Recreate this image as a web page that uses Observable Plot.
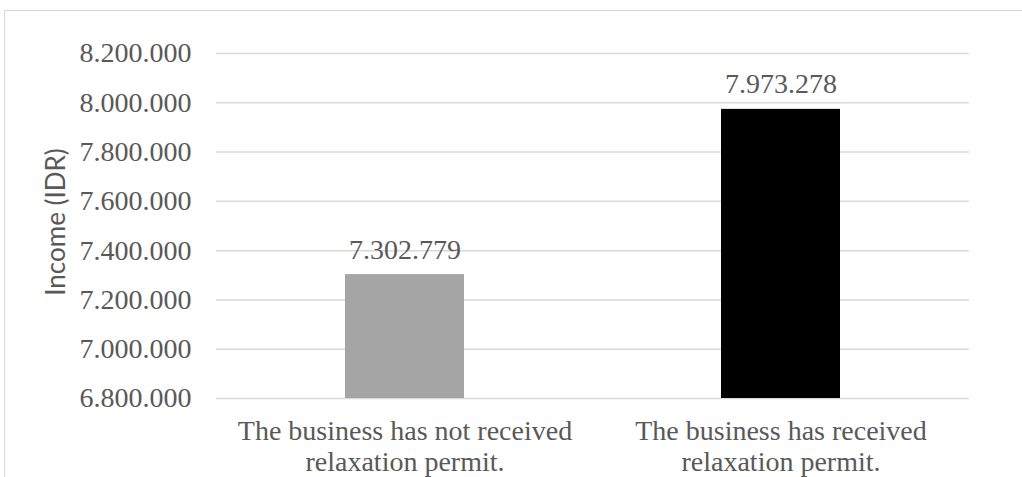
<!DOCTYPE html>
<html>
<head>
<meta charset="utf-8">
<script src="https://cdn.jsdelivr.net/npm/d3@7"></script>
<script src="https://cdn.jsdelivr.net/npm/@observablehq/plot@0.6"></script>
<style>
  html, body { margin: 0; padding: 0; background: #fff; overflow: hidden; }
  #wrap { position: relative; width: 1022px; height: 477px; overflow: hidden; }
  #frame { position: absolute; left: 4px; top: 10px; width: 1100px; height: 600px;
           border-left: 1.5px solid #d9d9d9; border-top: 1.5px solid #d9d9d9; box-sizing: border-box; }
  #chart { position: absolute; left: 0; top: 0; }
</style>
</head>
<body>
<div id="wrap"><div id="frame"></div><div id="chart"></div></div>
<script>
const categories = [
  "The business has not received\nrelaxation permit.",
  "The business has received\nrelaxation permit."
];
const incomes = [7302779, 7973278];
const barColors = ["#a5a5a5", "#000000"];
const yTicks = [6800000, 7000000, 7200000, 7400000, 7600000, 7800000, 8000000, 8200000];
const yLabel = "Income (IDR)";

const data = categories.map((c, i) => ({category: c, income: incomes[i], color: barColors[i]}));
const fmt = d3.formatLocale({decimal: ",", thousands: ".", grouping: [3], currency: ["", ""]}).format(",d");

const serif = "'Liberation Serif', 'Times New Roman', serif";
const sans = "Lato, 'Liberation Sans', sans-serif";

const chart = Plot.plot({
  width: 1022,
  height: 477,
  marginLeft: 216,
  marginRight: 53,
  marginTop: 53,
  marginBottom: 79,
  style: {fontFamily: serif, fontSize: "28px", color: "#595959", background: "transparent", overflow: "visible"},
  x: {domain: categories, paddingInner: 0.684, paddingOuter: 0.342, label: null},
  y: {domain: [6800000, 8200000], label: null},
  marks: [
    Plot.ruleY(yTicks, {stroke: "#d9d9d9", strokeWidth: 1.5}),
    Plot.barY(data, {x: "category", y1: 6800000, y2: "income", fill: "color"}),
    Plot.text(data, {x: "category", y: "income", text: d => fmt(d.income), lineAnchor: "bottom", dy: -16,
                     fill: "#595959", fontSize: 28, fontFamily: serif}),
    Plot.axisY({ticks: yTicks, tickFormat: fmt, tickSize: 0, tickPadding: 25, fontSize: 28, fontFamily: serif, fill: "#595959"}),
    Plot.axisX({tickSize: 0, tickPadding: 20, fontSize: 28, fontFamily: serif, lineHeight: 1.1, fill: "#595959"}),
    Plot.text([yLabel], {frameAnchor: "left", rotate: -90, textAnchor: "middle", dx: -160, dy: -4,
                         fontFamily: sans, fontSize: 26, fill: "#595959"})
  ]
});
document.getElementById("chart").appendChild(chart);
</script>
</body>
</html>
